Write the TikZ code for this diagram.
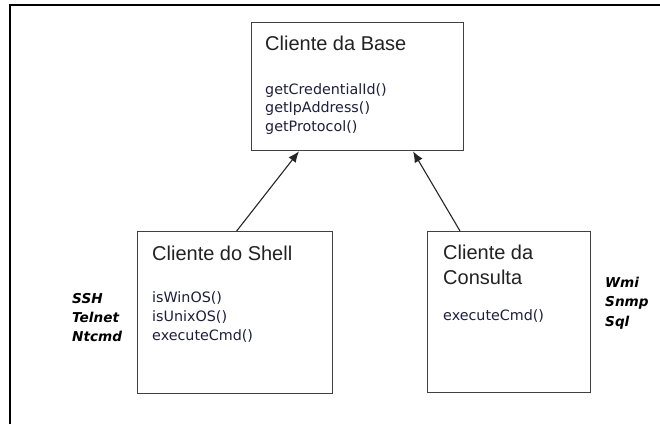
\documentclass[tikz,border=0pt]{standalone}
\usepackage{fontspec}
\usetikzlibrary{arrows.meta}
\newfontfamily\titlefont{Liberation Sans}
\newfontfamily\methfont{DejaVu Sans}
\newfontfamily\protofont{DejaVu Sans}
\definecolor{boxgray}{RGB}{64,64,64}
\definecolor{titleink}{RGB}{34,34,34}
\definecolor{methink}{RGB}{30,30,62}
\tikzset{
  classbox/.style={draw=boxgray, line width=1.3pt, fill=none, inner sep=0pt, anchor=north west},
  classtitle/.style={anchor=base west, inner sep=0pt, text=titleink, font=\titlefont\fontsize{20}{24}\selectfont},
  method/.style={anchor=base west, inner sep=0pt, text=methink, font=\methfont\fontsize{14.3}{17}\selectfont},
  proto/.style={anchor=base west, inner sep=0pt, text=black, font=\protofont\bfseries\itshape\fontsize{13.6}{16}\selectfont},
  inherit/.style={draw=black!85, line width=1.1pt, -{Latex[length=11pt,width=9pt]}}
}
\begin{document}
\begin{tikzpicture}[x=1pt,y=-1pt]
  \useasboundingbox (0,0) rectangle (660,424);
  \fill[white] (0,0) rectangle (660,424);
  % page frame (top and left edges only)
  \draw[line width=2pt, black] (9.5,424) -- (9.5,5) -- (660,5);

  % class boxes
  \node[classbox, minimum width=212pt, minimum height=128pt] (base) at (251,22) {};
  \node[classbox, minimum width=195pt, minimum height=162pt] (shell) at (137,231) {};
  \node[classbox, minimum width=163pt, minimum height=161pt] (consulta) at (427,231) {};

  % Cliente da Base
  \node[classtitle] (basetitle) at (265,50) {Cliente da Base};
  \node[method] (m1) at (265,94) {getCredentialId()};
  \node[method] (m2) at (265,112.5) {getIpAddress()};
  \node[method] (m3) at (265,131) {getProtocol()};

  % Cliente do Shell
  \node[classtitle] (shelltitle) at (152,260) {Cliente do Shell};
  \node[method] (s1) at (152,302) {isWinOS()};
  \node[method] (s2) at (152,321) {isUnixOS()};
  \node[method] (s3) at (152,340) {executeCmd()};

  % Cliente da Consulta
  \node[classtitle] (constitle1) at (443,259) {Cliente da};
  \node[classtitle] (constitle2) at (443,284) {Consulta};
  \node[method] (c1) at (443,320) {executeCmd()};

  % protocols
  \node[proto] (p1) at (72,303) {SSH};
  \node[proto] (p2) at (72,322) {Telnet};
  \node[proto] (p3) at (72,341) {Ntcmd};
  \node[proto] (q1) at (605,287) {Wmi};
  \node[proto] (q2) at (605,306.5) {Snmp};
  \node[proto] (q3) at (605,326) {Sql};

  % inheritance arrows
  \draw[inherit] ([xshift=1.5pt]shell.north) -- ([xshift=48pt]base.south west);
  \draw[inherit] ([xshift=33pt]consulta.north west) -- ([xshift=162pt]base.south west);
\end{tikzpicture}
\end{document}
